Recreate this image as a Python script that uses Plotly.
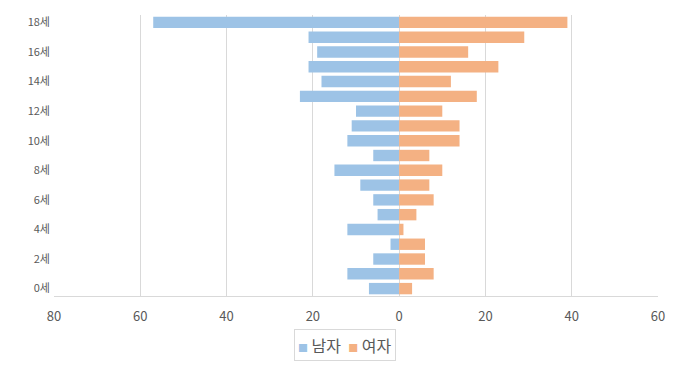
import plotly.graph_objects as go

ages = list(range(19))
male = [7, 12, 6, 2, 12, 5, 6, 9, 15, 6, 12, 11, 10, 23, 18, 21, 19, 21, 57]
female = [3, 8, 6, 6, 1, 4, 8, 7, 10, 7, 14, 14, 10, 18, 12, 23, 16, 29, 39]
series_names = ["남자", "여자"]
series_colors = ["#9DC3E6", "#F4B183"]
age_tick_vals = [0, 2, 4, 6, 8, 10, 12, 14, 16, 18]
age_tick_text = ["0세", "2세", "4세", "6세", "8세", "10세", "12세", "14세", "16세", "18세"]
x_tick_vals = [-80, -60, -40, -20, 0, 20, 40, 60]
x_tick_text = ["80", "60", "40", "20", "0", "20", "40", "60"]

fig = go.Figure()
fig.add_trace(go.Bar(
    y=ages, x=[-v for v in male], orientation="h", name=series_names[0],
    marker=dict(color=series_colors[0], line=dict(width=0)),
    customdata=male, hovertemplate="%{y}세: %{customdata}<extra>남자</extra>",
))
fig.add_trace(go.Bar(
    y=ages, x=female, orientation="h", name=series_names[1],
    marker=dict(color=series_colors[1], line=dict(width=0)),
    hovertemplate="%{y}세: %{x}<extra>여자</extra>",
))

legend_text = "  ".join(
    f"<span style='color:{c};font-size:10px'>■</span> {n}"
    for n, c in zip(series_names, series_colors)
)

fig.update_layout(
    width=680, height=365,
    margin=dict(l=54, r=22, t=15, b=69),
    barmode="overlay", bargap=0.23,
    paper_bgcolor="white", plot_bgcolor="white",
    font=dict(family="Noto Sans CJK KR, Noto Sans, sans-serif", color="#595959"),
    xaxis=dict(
        range=[-80, 60], tickvals=x_tick_vals, ticktext=x_tick_text,
        showgrid=True, gridcolor="#D9D9D9", gridwidth=1,
        zeroline=True, zerolinecolor="#D9D9D9", zerolinewidth=1,
        showline=True, linecolor="#D9D9D9", linewidth=1,
        ticks="", ticklabelstandoff=8,
        tickfont=dict(size=13, color="#595959"),
        fixedrange=True,
    ),
    yaxis=dict(
        range=[-0.5, 18.5], tickvals=age_tick_vals, ticktext=age_tick_text,
        showgrid=False, zeroline=False, showline=False, ticks="",
        ticklabelstandoff=3,
        tickfont=dict(size=11, color="#595959"),
        fixedrange=True,
    ),
    showlegend=False,
    annotations=[dict(
        text=legend_text, xref="paper", yref="paper",
        x=0.482, y=-0.174, xanchor="center", yanchor="middle",
        showarrow=False, font=dict(size=16, color="#595959"),
        bordercolor="#D9D9D9", borderwidth=1, borderpad=3,
        bgcolor="white",
    )],
)

fig.write_html(
    "out.html",
    config={"displayModeBar": False},
    post_script="document.body.style.margin='0px';",
)
